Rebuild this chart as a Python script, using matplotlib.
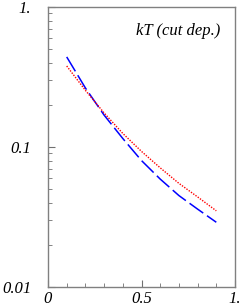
import matplotlib
matplotlib.use("Agg")
import matplotlib.pyplot as plt
from matplotlib.ticker import FixedLocator, LogLocator, NullFormatter, MultipleLocator

x = [0.1, 0.2, 0.3, 0.4, 0.5, 0.6, 0.7, 0.8, 0.9]
blue_vals = [0.44, 0.264, 0.169, 0.115, 0.080, 0.059, 0.045, 0.036, 0.029]
red_vals = [0.379, 0.254, 0.175, 0.125, 0.093, 0.071, 0.055, 0.044, 0.035]
xticks = [0, 0.5, 1.0]
xlabels = ["0", "0.5", "1."]
yticks = [0.01, 0.1, 1.0]
ylabels = ["0.01", "0.1", "1."]

plt.rcParams['font.family'] = ['Liberation Serif', 'DejaVu Serif']

fig = plt.figure(figsize=(2.4, 3.08), dpi=100)
ax = fig.add_axes([48/240, 1 - 287/308, (235-48)/240, (287-7)/308])

ax.plot(x, blue_vals, color="#0000ff", lw=1.1, dashes=(11, 3))
ax.plot(x, red_vals, color="#ff0000", lw=1.0, dashes=(1, 1))

ax.set_yscale("log")
ax.set_xlim(0, 1)
ax.set_ylim(0.01, 1)

ax.set_xticks(xticks)
ax.set_xticklabels(xlabels, style="italic", fontsize=12)
ax.xaxis.set_minor_locator(MultipleLocator(0.1))
ax.yaxis.set_major_locator(FixedLocator(yticks))
ax.set_yticklabels(ylabels, style="italic", fontsize=12)
ax.yaxis.set_minor_locator(LogLocator(base=10, subs=range(2, 10)))
ax.yaxis.set_minor_formatter(NullFormatter())

ax.tick_params(which="both", direction="in", color="#707070", top=False, right=False)
ax.tick_params(which="major", length=5, width=0.8)
ax.tick_params(which="minor", length=3, width=0.6)
ax.tick_params(axis="y", pad=12)
ax.tick_params(axis="x", pad=3)

for s in ax.spines.values():
    s.set_color("#808080")
    s.set_linewidth(1.0)

ax.text(0.92, 0.915, "kT (cut dep.)", transform=ax.transAxes, ha="right", va="center",
        style="italic", fontsize=12)

fig.savefig("out.png", dpi=100)
